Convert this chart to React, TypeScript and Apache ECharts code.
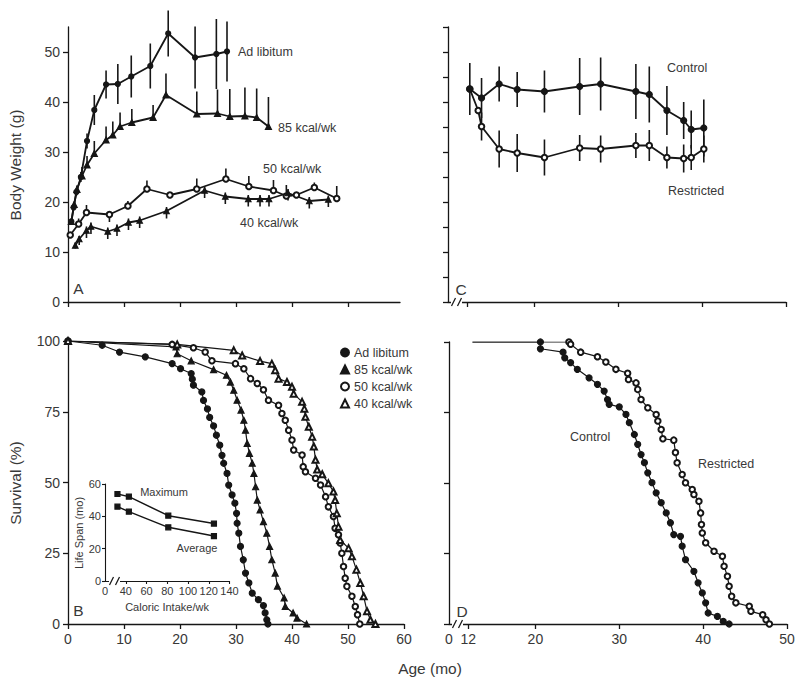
import React, { useEffect, useRef } from "react";
import * as echarts from "echarts";

// ---------- Panel A: body weight (g) vs age (mo) ----------
const adLibMonths = [0.6, 1.0, 1.5, 2.3, 3.4, 4.7, 6.8, 8.9, 11.3, 14.7, 17.9, 22.7, 26.5, 28.4];
const adLibWeight = [16.1, 18.9, 22.0, 25.0, 32.2, 38.4, 43.5, 43.6, 45.1, 47.2, 53.7, 48.9, 49.6, 50.1];
const adLibSd = [0, 0.5, 0.8, 1.0, 1.5, 3.0, 2.8, 4.0, 4.2, 4.5, 4.6, 6.2, 7.0, 6.0];

const k85Months = [0.6, 1.1, 1.6, 2.5, 3.4, 4.7, 6.8, 8.0, 9.3, 11.4, 15.2, 17.5, 23.0, 26.7, 28.9, 31.6, 33.7, 35.8];
const k85Weight = [16.1, 19.5, 22.5, 25.2, 27.4, 29.7, 32.4, 33.4, 35.1, 35.9, 36.9, 41.4, 37.6, 37.7, 37.1, 37.2, 36.9, 35.1];
const k85ErrUp = [0, 0.5, 0.8, 1.8, 1.8, 2.5, 2.7, 2.7, 2.8, 2.7, 2.5, 4.3, 4.5, 4.8, 5.5, 5.7, 5.8, 5.9];

const k50Months = [0.4, 1.9, 3.3, 7.4, 10.7, 14.1, 18.2, 23.0, 28.2, 32.3, 36.7, 39.0, 40.8, 44.0, 48.0];
const k50Weight = [13.4, 15.6, 17.9, 17.5, 19.2, 22.6, 21.4, 22.6, 24.6, 23.1, 22.3, 21.2, 21.4, 22.9, 20.7];
const k50ErrUp = [0, 1.1, 1.5, 0, 1.0, 1.7, 0, 2.1, 2.1, 2.1, 2.1, 2.2, 0, 1.0, 2.5];
const k50ErrDown = [0, 0, 0, 1.5, 0, 0, 0, 0, 0, 0, 0, 0, 0, 0, 0];

const k40Months = [1.3, 2.0, 3.3, 4.1, 7.1, 8.75, 10.8, 12.8, 17.6, 24.4, 28.1, 32.2, 34.3, 35.9, 39.3, 43.1, 46.5];
const k40Weight = [11.3, 12.6, 14.3, 15.1, 14.1, 14.7, 15.9, 16.3, 18.2, 22.3, 21.1, 20.6, 20.6, 20.6, 21.8, 20.2, 20.5];
const k40ErrUp = [0.6, 0.6, 0.8, 0.8, 0.8, 0.8, 0.8, 0.8, 0.8, 0.8, 0.8, 0.8, 0.8, 0.8, 0.8, 0.8, 0.8];
const k40ErrDown = [0.6, 1.2, 1.5, 1.5, 1.5, 1.5, 1.5, 1.5, 1.5, 1.5, 1.5, 1.5, 1.5, 1.5, 1.5, 1.5, 1.5];

// ---------- Panel B: survival (%) ----------
const bAdLibMonths = [0, 6.1, 9.2, 13.8, 18.6, 20.1, 22.0, 22.2, 22.4, 23.9, 24.2, 24.9, 25.3, 26.0, 26.5, 27.1, 27.5, 27.8, 28.4, 28.7, 29.3, 29.8, 30.1, 30.2, 30.5, 30.8, 31.3, 31.7, 32.3, 32.9, 34.0, 34.9, 35.2, 35.5, 35.7];
const bAdLibSurv = [100, 98.5, 96.1, 94.4, 92.0, 90.2, 88.5, 86.5, 84.4, 82.0, 79.0, 76.0, 73.0, 70.0, 66.7, 63.2, 59.6, 56.8, 53.2, 49.1, 45.6, 42.7, 39.1, 35.6, 32.1, 27.4, 22.7, 18.0, 14.5, 10.9, 8.6, 6.5, 3.9, 1.5, 0];

const b85Months = [0, 19.3, 19.5, 22.0, 26.0, 28.3, 29.0, 29.6, 30.2, 30.9, 31.4, 31.7, 32.0, 32.4, 32.9, 33.2, 33.5, 33.8, 34.3, 34.9, 35.5, 36.0, 36.4, 37.0, 37.4, 38.6, 38.8, 40.2, 40.9, 42.6];
const b85Surv = [100, 97.9, 95.5, 93.0, 89.9, 87.9, 85.5, 82.6, 79.1, 75.6, 72.0, 68.5, 63.8, 60.3, 56.8, 53.2, 48.5, 43.8, 40.3, 36.2, 32.1, 27.4, 22.7, 18.0, 13.4, 9.2, 6.2, 3.9, 2.1, 0];

const b50Months = [0, 18.6, 22.4, 24.5, 25.7, 29.9, 31.4, 32.6, 33.8, 34.9, 35.8, 37.6, 38.2, 38.8, 39.4, 40.0, 40.3, 41.8, 42.0, 42.4, 44.2, 45.1, 46.0, 46.5, 47.4, 47.7, 48.3, 48.6, 48.9, 49.2, 49.5, 49.8, 50.7, 51.3, 51.7, 52.1];
const b50Surv = [100, 98.8, 97.6, 96.1, 93.0, 92.0, 90.2, 86.7, 85.0, 82.8, 79.1, 77.3, 74.4, 72.0, 68.5, 65.0, 61.5, 59.7, 55.6, 53.8, 51.5, 49.1, 45.0, 41.4, 38.0, 33.8, 31.5, 28.6, 25.0, 20.3, 16.2, 13.3, 9.8, 6.2, 3.3, 0];

const b40Months = [0, 19.5, 29.6, 31.1, 34.3, 36.4, 37.0, 37.6, 39.1, 40.0, 40.3, 41.8, 42.2, 42.4, 43.0, 43.6, 43.9, 44.2, 44.5, 45.4, 46.5, 47.4, 47.7, 48.0, 48.3, 48.6, 50.1, 50.7, 51.5, 52.2, 52.8, 53.4, 54.0, 54.9];
const b40Surv = [100, 98.8, 96.7, 94.9, 92.9, 92.0, 89.7, 86.7, 85.5, 83.8, 81.4, 78.5, 76.1, 73.2, 69.7, 66.2, 62.7, 58.0, 54.6, 52.9, 49.7, 46.8, 43.8, 39.1, 34.4, 29.7, 26.8, 23.9, 19.2, 14.5, 9.8, 4.5, 1.5, 0];

// ---------- Inset: life span (mo) vs caloric intake/wk ----------
const insetKcal = [32, 43, 81, 125];
const insetMax = [53.8, 52.2, 40.4, 35.5];
const insetAvg = [46.0, 42.9, 33.2, 27.8];

// ---------- Panel C: body weight, control vs restricted ----------
const cControlMonths = [12.3, 13.7, 15.8, 17.95, 21.2, 25.4, 27.9, 32.1, 33.7, 35.8, 37.8, 38.7, 40.2];
const cControlWeight = [42.6, 40.8, 43.6, 42.5, 42.1, 43.1, 43.6, 42.1, 41.5, 38.3, 36.3, 34.5, 34.8];
const cControlSd = [5.2, 4.0, 3.5, 3.5, 4.2, 5.7, 5.3, 5.5, 5.6, 4.9, 3.7, 3.8, 5.7];
const cRestrMonths = [12.3, 13.3, 13.7, 15.8, 17.95, 21.2, 25.4, 27.9, 32.1, 33.7, 35.8, 37.8, 38.7, 40.2];
const cRestrWeight = [42.6, 38.3, 35.1, 30.6, 29.8, 28.9, 30.8, 30.6, 31.3, 31.3, 28.9, 28.7, 28.9, 30.6];
const cRestrSd = [0, 0, 2.8, 3.7, 3.8, 3.6, 2.6, 2.7, 2.5, 3.1, 2.2, 2.8, 2.5, 2.7];

// ---------- Panel D: survival, control vs restricted ----------
const dControlMonths = [12.5, 20.6, 20.6, 23.3, 23.5, 24.2, 25.0, 26.4, 27.4, 28.2, 28.6, 28.8, 30.0, 30.8, 31.2, 31.8, 32.2, 32.6, 33.0, 33.4, 33.9, 34.4, 35.0, 35.6, 36.1, 36.5, 37.3, 37.5, 37.9, 38.9, 39.4, 39.9, 40.3, 40.6, 41.7, 42.4, 43.1];
const dControlSurv = [100, 100, 97.6, 96.4, 94.4, 92.7, 90.3, 87.3, 85.0, 82.6, 79.6, 77.9, 77.0, 74.3, 71.4, 67.2, 63.7, 60.1, 57.2, 53.6, 50.1, 46.5, 43.0, 39.4, 35.9, 31.7, 31.1, 27.6, 22.8, 18.7, 14.6, 11.0, 7.5, 3.9, 2.7, 0.9, 0];
const dRestrMonths = [12.5, 24.0, 24.2, 25.4, 27.4, 28.4, 29.6, 31.0, 31.1, 32.0, 32.2, 32.6, 33.4, 34.4, 34.6, 35.0, 35.2, 36.5, 36.7, 36.9, 37.5, 37.9, 38.7, 38.9, 39.5, 39.7, 39.8, 39.9, 40.3, 41.3, 42.3, 42.5, 42.9, 43.1, 43.4, 43.9, 45.5, 45.7, 47.1, 47.5, 47.9];
const dRestrSurv = [100, 100, 99.2, 96.4, 94.8, 92.9, 90.3, 88.9, 86.7, 85.5, 83.2, 79.6, 76.7, 74.3, 72.0, 69.0, 65.7, 65.2, 60.8, 57.2, 53.0, 50.1, 47.7, 45.9, 43.5, 39.4, 35.3, 32.3, 28.8, 25.8, 24.0, 20.5, 16.9, 13.4, 9.8, 7.5, 6.3, 4.5, 3.3, 1.5, 0];

// tick / label values
const ageTicksA = [0, 10, 20, 30, 40, 50];
const weightLabelsA = [0, 10, 20, 30, 40, 50];
const ageTicksCD = [12, 20, 30, 40, 50];
const ageLabelsD = [9.7, 12, 20, 30, 40, 50];
const kcalTicks = [40, 60, 80, 100, 120, 140];
const kcalLabels = [20, 40, 60, 80, 100, 120, 140];

const INK = "#161616";
const TEXT = "#383838";
const FONT = "'Liberation Sans', Arial, Helvetica, sans-serif";

const pairs = (xs: number[], ys: number[]) => xs.map((x, i) => [x, ys[i]]);
// same, but the first point (start of the flat 100% line) carries no marker
const pairsNoFirstMark = (xs: number[], ys: number[]) =>
  xs.map((x, i) => (i === 0 ? { value: [x, ys[i]], symbolSize: 0 } : [x, ys[i]]));
const errPairs = (xs: number[], ys: number[], up: number[], down: number[]) =>
  xs.map((x, i) => [x, ys[i] - down[i], ys[i] + up[i]]);

const errRender = (params: any, api: any) => {
  const x = api.value(0);
  const lo = api.value(1);
  const hi = api.value(2);
  if (hi - lo <= 0) return null;
  const a = api.coord([x, lo]);
  const b = api.coord([x, hi]);
  return {
    type: "line",
    shape: { x1: a[0], y1: a[1], x2: b[0], y2: b[1] },
    style: { stroke: INK, lineWidth: 1.6 },
  };
};

const axisLine = { show: true, onZero: false, lineStyle: { color: INK, width: 1.3 } };
const tickStyle = { lineStyle: { color: INK, width: 1.3 } };

function lineSeries(name: string, xi: number, data: any[], symbol: string, size: number, width: number, extra: any = {}) {
  return {
    name,
    type: "line",
    xAxisIndex: xi,
    yAxisIndex: xi,
    data,
    symbol,
    symbolSize: size,
    showAllSymbol: true,
    lineStyle: { color: INK, width },
    itemStyle: { color: INK, borderColor: INK, borderWidth: 1.2 },
    emphasis: { disabled: true },
    silent: true,
    z: 3,
    ...extra,
  };
}

function errSeries(xi: number, data: number[][]) {
  return {
    type: "custom",
    xAxisIndex: xi,
    yAxisIndex: xi,
    renderItem: errRender,
    encode: { x: 0, y: [1, 2] },
    data,
    silent: true,
    z: 2,
  };
}

function text(t: string, x: number, y: number, size: number, align = "left", extra: any = {}) {
  return {
    type: "text",
    x,
    y,
    z: 100,
    silent: true,
    style: { text: t, fill: TEXT, font: `${size}px ${FONT}`, align, verticalAlign: "middle" },
    ...extra,
  };
}

function breakMark(x: number, y: number) {
  return [
    { type: "rect", z: 99, silent: true, shape: { x: x, y: y - 3, width: 11, height: 6 }, style: { fill: "#fff" } },
    { type: "line", z: 100, silent: true, shape: { x1: x + 0.5, y1: y + 4, x2: x + 4.5, y2: y - 4 }, style: { stroke: INK, lineWidth: 1.2 } },
    { type: "line", z: 100, silent: true, shape: { x1: x + 6.5, y1: y + 4, x2: x + 10.5, y2: y - 4 }, style: { stroke: INK, lineWidth: 1.2 } },
  ];
}

export default function App() {
  const ref = useRef<HTMLDivElement>(null);
  useEffect(() => {
    if (!ref.current) return;
    const chart = echarts.init(ref.current, undefined, { renderer: "svg" });
    const labelBase = { color: TEXT, fontFamily: FONT, fontSize: 14 };

    const option: any = {
      animation: false,
      backgroundColor: "#ffffff",
      textStyle: { fontFamily: FONT },
      grid: [
        { left: 68, top: 27, width: 332, height: 275 }, // A
        { left: 68, top: 341, width: 336, height: 283 }, // B
        { left: 448, top: 27, width: 338, height: 275 }, // C
        { left: 449, top: 342, width: 338, height: 282 }, // D
        { left: 105, top: 484, width: 124.5, height: 97 }, // inset
      ],
      xAxis: [
        {
          gridIndex: 0, type: "value", min: 0, max: 59.3,
          axisLine, splitLine: { show: false },
          axisTick: { ...tickStyle, length: 5, customValues: ageTicksA },
          axisLabel: { show: false },
        },
        {
          gridIndex: 1, type: "value", min: 0, max: 60, interval: 10,
          axisLine, splitLine: { show: false },
          axisTick: { ...tickStyle, length: 5 },
          axisLabel: { ...labelBase, margin: 8 },
        },
        {
          gridIndex: 2, type: "value", min: 9.7, max: 50,
          axisLine, splitLine: { show: false },
          axisTick: { ...tickStyle, length: 5, customValues: ageTicksCD },
          axisLabel: { show: false },
        },
        {
          gridIndex: 3, type: "value", min: 9.7, max: 50,
          axisLine, splitLine: { show: false },
          axisTick: { ...tickStyle, length: 5, customValues: ageTicksCD },
          axisLabel: {
            ...labelBase, margin: 8, customValues: ageLabelsD,
            formatter: (v: number) => (v < 10 ? "0" : String(v)),
          },
        },
        {
          gridIndex: 4, type: "value", min: 20, max: 140,
          axisLine: { ...axisLine, lineStyle: { color: INK, width: 1.1 } }, splitLine: { show: false },
          axisTick: { lineStyle: { color: INK, width: 1.1 }, length: 3, customValues: kcalTicks },
          axisLabel: {
            ...labelBase, fontSize: 11, margin: 4, customValues: kcalLabels,
            formatter: (v: number) => (v < 30 ? "0" : String(v)),
          },
        },
      ],
      yAxis: [
        {
          gridIndex: 0, type: "value", min: 0, max: 55,
          axisLine, splitLine: { show: false },
          axisTick: { ...tickStyle, length: 5, customValues: weightLabelsA },
          axisLabel: { ...labelBase, margin: 8, customValues: weightLabelsA },
        },
        {
          gridIndex: 1, type: "value", min: 0, max: 100, interval: 25,
          axisLine, splitLine: { show: false },
          axisTick: { ...tickStyle, length: 5 },
          axisLabel: { ...labelBase, margin: 8 },
        },
        {
          gridIndex: 2, type: "value", min: 0, max: 55, interval: 5,
          axisLine, splitLine: { show: false },
          axisTick: { ...tickStyle, length: 5 },
          axisLabel: { show: false },
        },
        {
          gridIndex: 3, type: "value", min: 0, max: 100, interval: 25,
          axisLine, splitLine: { show: false },
          axisTick: { ...tickStyle, length: 5 },
          axisLabel: { show: false },
        },
        {
          gridIndex: 4, type: "value", min: 0, max: 60, interval: 20,
          axisLine: { ...axisLine, lineStyle: { color: INK, width: 1.1 } }, splitLine: { show: false },
          axisTick: { lineStyle: { color: INK, width: 1.1 }, length: 3 },
          axisLabel: { ...labelBase, fontSize: 11, margin: 4 },
        },
      ],
      legend: {
        orient: "vertical",
        left: 335,
        top: 341,
        itemWidth: 8,
        itemHeight: 8,
        itemGap: 4,
        selectedMode: false,
        textStyle: { color: TEXT, fontFamily: FONT, fontSize: 12.5, padding: [0, 0, 0, 0] },
        data: [
          { name: "Ad libitum", icon: "circle" },
          { name: "85 kcal/wk", icon: "triangle" },
          { name: "50 kcal/wk", icon: "emptyCircle" },
          { name: "40 kcal/wk", icon: "emptyTriangle" },
        ],
      },
      series: [
        // Panel B (first so legend picks these)
        lineSeries("Ad libitum", 1, pairs(bAdLibMonths, bAdLibSurv), "circle", 6, 1.2),
        lineSeries("85 kcal/wk", 1, pairs(b85Months, b85Surv), "triangle", 6, 1.2),
        lineSeries("50 kcal/wk", 1, pairs(b50Months, b50Surv), "emptyCircle", 5.5, 1.2),
        lineSeries("40 kcal/wk", 1, pairs(b40Months, b40Surv), "emptyTriangle", 6, 1.2),
        // Panel A
        errSeries(0, errPairs(adLibMonths, adLibWeight, adLibSd, adLibSd)),
        errSeries(0, errPairs(k85Months, k85Weight, k85ErrUp, k85Months.map(() => 0))),
        errSeries(0, errPairs(k50Months, k50Weight, k50ErrUp, k50ErrDown)),
        errSeries(0, errPairs(k40Months, k40Weight, k40ErrUp, k40ErrDown)),
        lineSeries("A Ad libitum", 0, pairs(adLibMonths, adLibWeight), "circle", 5, 1.8),
        lineSeries("A 85 kcal/wk", 0, pairs(k85Months, k85Weight), "triangle", 6, 1.8),
        lineSeries("A 50 kcal/wk", 0, pairs(k50Months, k50Weight), "emptyCircle", 5.5, 1.8),
        lineSeries("A 40 kcal/wk", 0, pairs(k40Months, k40Weight), "triangle", 5.5, 1.8),
        // Panel C
        errSeries(2, errPairs(cControlMonths, cControlWeight, cControlSd, cControlSd)),
        errSeries(2, errPairs(cRestrMonths, cRestrWeight, cRestrSd, cRestrSd)),
        lineSeries("C Control", 2, pairs(cControlMonths, cControlWeight), "circle", 6, 1.8, { z: 4 }),
        lineSeries("C Restricted", 2, pairs(cRestrMonths, cRestrWeight), "emptyCircle", 5.5, 1.8),
        // Panel D
        lineSeries("D Restricted", 3, pairsNoFirstMark(dRestrMonths, dRestrSurv), "emptyCircle", 5.5, 1.2),
        lineSeries("D Control", 3, pairsNoFirstMark(dControlMonths, dControlSurv), "circle", 6, 1.2, { z: 4 }),
        // Inset
        lineSeries("Maximum", 4, pairs(insetKcal, insetMax), "rect", 5, 1.5),
        lineSeries("Average", 4, pairs(insetKcal, insetAvg), "rect", 5, 1.5),
      ],
      graphic: [
        text("Body Weight (g)", 15, 165, 15.5, "center", { rotation: Math.PI / 2 }),
        text("Survival (%)", 15, 483, 15.5, "center", { rotation: Math.PI / 2 }),
        text("Age (mo)", 430, 668, 15.5, "center"),
        text("A", 78.5, 288, 15.5, "center"),
        text("B", 78.5, 610, 15.5, "center"),
        text("C", 461, 289, 15.5, "center"),
        text("D", 462, 611, 15.5, "center"),
        text("Ad libitum", 238, 52, 12.5),
        text("85 kcal/wk", 278, 128, 12.5),
        text("50 kcal/wk", 263, 169, 12.5),
        text("40 kcal/wk", 240, 223, 12.5),
        text("Control", 667, 68, 12.5),
        text("Restricted", 668, 191, 12.5),
        text("Control", 570, 437, 12.5),
        text("Restricted", 698, 464, 12.5),
        text("Maximum", 164, 492, 11, "center"),
        text("Average", 197, 548, 11, "center"),
        text("Caloric Intake/wk", 167, 607, 11, "center"),
        text("Life Span (mo)", 79, 533, 11, "center", { rotation: Math.PI / 2 }),
        ...breakMark(451, 302),
        ...breakMark(452, 624),
        ...breakMark(109, 581),
      ],
    };
    chart.setOption(option);
    return () => chart.dispose();
  }, []);
  return <div ref={ref} style={{ position: "fixed", left: 0, top: 0, width: 800, height: 686 }} />;
}
